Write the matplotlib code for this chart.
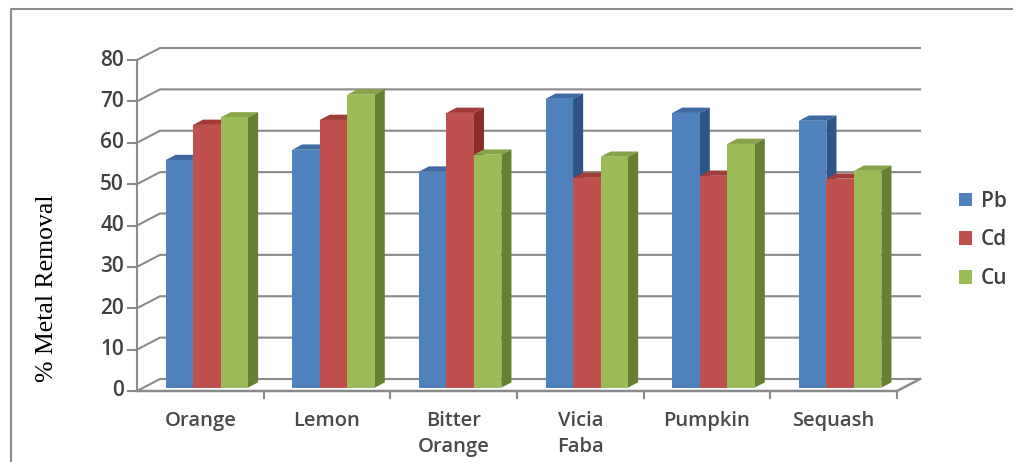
import numpy as np
import matplotlib.pyplot as plt
from matplotlib.patches import Polygon, Patch, Rectangle

# percent removal per adsorbent
categories = ['Orange', 'Lemon', 'Bitter\nOrange', 'Vicia\nFaba', 'Pumpkin', 'Sequash']
metals = ['Pb', 'Cd', 'Cu']
pb = [55.0, 57.5, 52.2, 69.8, 66.4, 64.5]
cd = [63.5, 64.7, 66.4, 50.7, 51.2, 50.5]
cu = [65.3, 70.8, 56.3, 55.8, 58.9, 52.4]
yticks = [0, 10, 20, 30, 40, 50, 60, 70, 80]

front_cols = ['#4F81BD', '#C0504D', '#9BBB59']
side_cols = ['#2E5586', '#8C2D2A', '#667F33']
top_cols = ['#3D6AA3', '#A33B38', '#86A447']

W, H = 1013, 462
fig = plt.figure(figsize=(W / 100, H / 100), dpi=100)
ax = fig.add_axes([137 / W, (H - 391) / H, 760 / W, 331 / H])
ax.set_xlim(0, 6)
ax.set_ylim(0, 80)
ax.axis('off')

# pixel offsets of the back wall -> data units
p0, p1 = ax.transData.transform([[0, 0], [1, 1]])
ppx, ppy = p1 - p0
DX, DY = 23 / ppx, 12 / ppy
grid = '#8A8A8A'

# walls and floor
for v in yticks:
    ax.plot([0, DX, 6 + DX], [v, v + DY, v + DY], color=grid, lw=1.5,
            clip_on=False, zorder=1)
    ax.plot([-9 / ppx, 0], [v, v], color=grid, lw=1.5, clip_on=False, zorder=1)
ax.plot([0, 6, 6 + DX], [0, 0, DY], color=grid, lw=1.8, clip_on=False, zorder=1)
ax.plot([0, 0], [0, 80], color=grid, lw=1.5, clip_on=False, zorder=1)
for k in range(1, 7):
    ax.plot([k, k], [0, -7 / ppy], color=grid, lw=1.5, clip_on=False, zorder=1)

# 3-D columns
bw = 0.217
d0, d1 = 0.28, 0.72
series = [pb, cd, cu]
for c in range(len(categories)):
    for i, vals in enumerate(series):
        v = vals[c]
        xl = c + 0.5 + (i - 1.5) * bw + d0 * DX
        xr = xl + bw
        yb = d0 * DY
        ddx, ddy = (d1 - d0) * DX, (d1 - d0) * DY
        top = Polygon([(xl, v + yb), (xr, v + yb), (xr + ddx, v + yb + ddy),
                       (xl + ddx, v + yb + ddy)], closed=True,
                      fc=top_cols[i], ec='none', clip_on=False, zorder=3)
        side = Polygon([(xr, yb), (xr, v + yb), (xr + ddx, v + yb + ddy),
                        (xr + ddx, yb + ddy)], closed=True,
                       fc=side_cols[i], ec='none', clip_on=False, zorder=3)
        front = Rectangle((xl, yb), bw, v, fc=front_cols[i], ec='none',
                          clip_on=False, zorder=3)
        ax.add_patch(top)
        ax.add_patch(side)
        ax.add_patch(front)

lab_font = {'family': 'Open Sans', 'weight': 'semibold'}

# tick labels
for v in yticks:
    ax.text(-13 / ppx, v, str(v), ha='right', va='center', fontsize=15,
            color='#404040', **lab_font)
for c, lab in enumerate(categories):
    ax.text(c + 0.5, -20 / ppy, lab, ha='center', va='top', fontsize=14.5,
            color='#4A4A4A', linespacing=1.38, **lab_font)

fig.text(47 / W, 1 - 288 / H, '% Metal Removal', rotation=90, ha='center',
         va='center', fontsize=18.5, family='Liberation Serif')

handles = [Patch(fc=front_cols[i], ec='none', label=m) for i, m in enumerate(metals)]
fig.legend(handles=handles, loc='center left', bbox_to_anchor=(940 / W, 1 - 240 / H),
           frameon=False, handlelength=0.65, handleheight=0.65, handletextpad=0.4,
           labelspacing=0.85, prop={'family': 'Open Sans', 'weight': 'semibold', 'size': 15},
           labelcolor='#404040')

# chart border
fig.add_artist(plt.Line2D([11 / W, 11 / W, 1], [0, 1 - 9 / H, 1 - 9 / H],
                          color='#8C8C8C', lw=1.5))

fig.savefig('out.png', dpi=100, facecolor='white')
